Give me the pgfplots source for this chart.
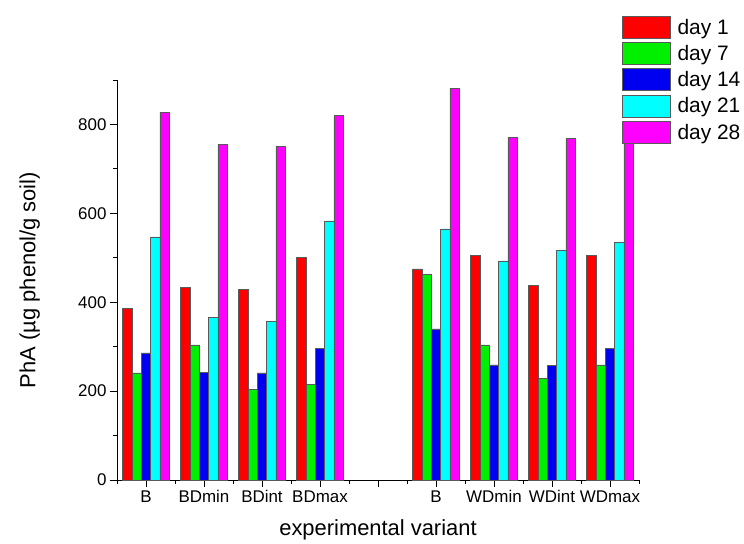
\documentclass[border=0pt]{standalone}
\usepackage{pgfplots}
\pgfplotsset{compat=1.18}
\usepackage{fontspec}
\setmainfont{Liberation Sans}
\definecolor{cRed}{RGB}{255,0,0}
\definecolor{cGreen}{RGB}{0,240,0}
\definecolor{cBlue}{RGB}{0,0,240}
\definecolor{cCyan}{RGB}{0,255,255}
\definecolor{cMag}{RGB}{255,0,255}
\begin{document}
\begin{tikzpicture}
\begin{axis}[
  scale only axis,
  width=522bp, height=400bp,
  xmin=0.5, xmax=9.5,
  ymin=0, ymax=900,
  axis x line*=bottom,
  axis y line*=left,
  axis line style={-, line width=0.8bp},
  ybar=0pt,
  bar width=0.16,
  xtick={1,2,3,4,5,6,7,8,9},
  xticklabels={B,BDmin,BDint,BDmax,,B,WDmin,WDint,WDmax},
  minor xtick={0.5,1.5,2.5,3.5,4.5,5.5,6.5,7.5,8.5,9.5},
  ytick={0,200,400,600,800},
  minor ytick={100,300,500,700,900},
  tick align=outside,
  major tick length=7bp,
  minor tick length=4bp,
  every tick/.style={black, line width=0.8bp},
  /pgf/number format/assume math mode=true,
  tick label style={font=\fontsize{17}{19}\selectfont},
  label style={font=\fontsize{22}{24}\selectfont},
  xlabel={experimental variant},
  ylabel={PhA (µg phenol/g soil)},
  xlabel style={at={(axis description cs:0.5,-0.125)}, anchor=center},
  ylabel style={at={(axis description cs:-0.167,0.5)}, anchor=center},
  legend style={
    at={(0.967,1.1608)}, anchor=north west,
    draw=none, fill=none, inner sep=0pt, row sep=3.7bp, column sep=7bp,
    font=\fontsize{21}{23}\selectfont,
    nodes={inner sep=0pt, anchor=west},
    legend cell align=left,
  },
  legend image code/.code={\draw[#1] (0bp,-11bp) rectangle (48bp,11bp);},
  clip=false,
  every axis plot/.append style={draw=black!65, line width=0.6bp},
]
\addplot[fill=cRed] coordinates {(1,387) (2,433) (3,429) (4,501) (6,475) (7,505) (8,437) (9,505)};
\addplot[fill=cGreen] coordinates {(1,241) (2,304) (3,203) (4,216) (6,463) (7,304) (8,228) (9,259)};
\addplot[fill=cBlue] coordinates {(1,286) (2,243) (3,241) (4,297) (6,340) (7,259) (8,257) (9,297)};
\addplot[fill=cCyan] coordinates {(1,547) (2,365) (3,356) (4,583) (6,565) (7,493) (8,516) (9,535)};
\addplot[fill=cMag] coordinates {(1,827) (2,755) (3,750) (4,820) (6,881) (7,771) (8,768) (9,760)};
\legend{day 1, day 7, day 14, day 21, day 28}
\end{axis}
\path ([shift={(-117bp,-62bp)}]current axis.south west) rectangle ++(744bp,542bp);
\end{tikzpicture}
\end{document}
